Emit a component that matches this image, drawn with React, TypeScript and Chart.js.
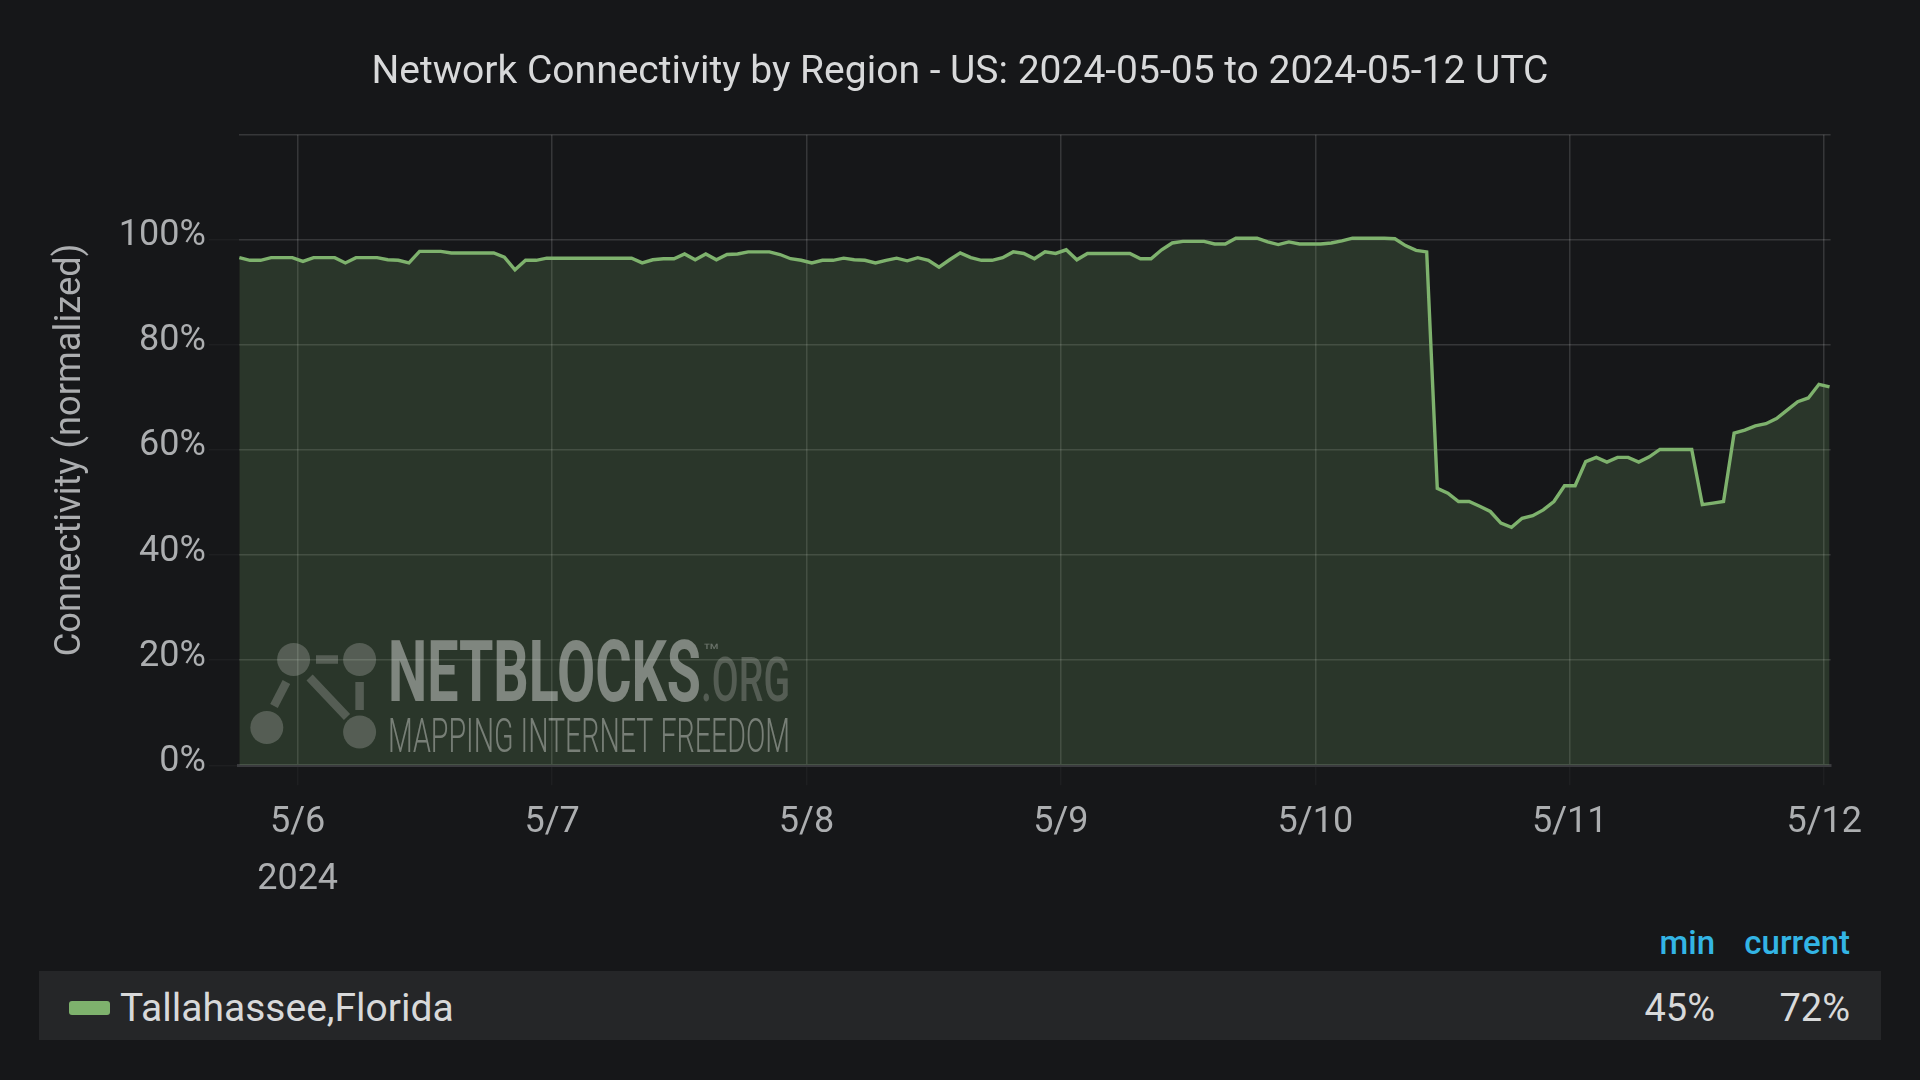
import React, { useEffect, useRef } from 'react';
import { Chart, registerables } from 'chart.js';

Chart.register(...registerables);

// ---------------- data ----------------
const chartTitle = 'Network Connectivity by Region - US: 2024-05-05 to 2024-05-12 UTC';
const yAxisTitle = 'Connectivity (normalized)';
const seriesName = 'Tallahassee,Florida';

// hourly samples, first one at 5/5 18:30 (hours relative to 5/6 00:00)
const startHour = -5.5;
const stepHours = 1;
const connectivity = [
  96.6, 96.1, 96.1, 96.6, 96.6, 96.6, 95.9, 96.6, 96.6, 96.6,
  95.6, 96.6, 96.6, 96.6, 96.2, 96.1, 95.6, 97.8, 97.8, 97.8,
  97.5, 97.5, 97.5, 97.5, 97.5, 96.7, 94.3, 96.1, 96.1, 96.5,
  96.5, 96.5, 96.5, 96.5, 96.5, 96.5, 96.5, 96.5, 95.6, 96.2,
  96.4, 96.4, 97.3, 96.2, 97.3, 96.2, 97.2, 97.3, 97.7, 97.7,
  97.7, 97.2, 96.4, 96.1, 95.6, 96.1, 96.1, 96.5, 96.2, 96.1,
  95.6, 96.1, 96.5, 96.0, 96.6, 96.1, 94.8, 96.2, 97.5, 96.6,
  96.1, 96.1, 96.6, 97.7, 97.4, 96.4, 97.7, 97.4, 98.1, 96.2,
  97.4, 97.4, 97.4, 97.4, 97.4, 96.4, 96.4, 98.1, 99.4, 99.7,
  99.7, 99.7, 99.2, 99.2, 100.3, 100.3, 100.3, 99.6, 99.1, 99.6,
  99.2, 99.2, 99.2, 99.4, 99.8, 100.3, 100.3, 100.3, 100.3, 100.2,
  98.9, 98.0, 97.7, 52.7, 51.8, 50.2, 50.2, 49.3, 48.3, 46.1,
  45.3, 47.0, 47.5, 48.6, 50.2, 53.2, 53.2, 57.8, 58.6, 57.7,
  58.6, 58.6, 57.7, 58.7, 60.1, 60.1, 60.1, 60.1, 49.6, 49.9,
  50.2, 63.2, 63.8, 64.6, 65.0, 66.0, 67.6, 69.2, 69.9, 72.5, 72.0,
];

const dayTickHours = [0, 24, 48, 72, 96, 120, 144];
const dayTickLabels = ['5/6', '5/7', '5/8', '5/9', '5/10', '5/11', '5/12'];
const yearLabel = '2024';
const yTickValues = [0, 20, 40, 60, 80, 100, 120];
const xRange = [-5.55, 144.6];
const yRange = [0, 120];

const legendHeaders = ['min', 'current'];

// ---------------- style ----------------
const BG = '#161719';
const LINE = '#7eb26d';
const FILL = 'rgba(126,178,109,0.2)';
const GRID = 'rgba(255,255,255,0.14)';
const TICK_MARK = 'rgba(255,255,255,0.035)';
const AXIS_TEXT = '#acaeb0';
const FONT = 'Roboto, "Noto Sans", sans-serif';

const watermarkPlugin = {
  id: 'netblocksWatermark',
  afterDatasetsDraw(chart: any) {
    const ctx: CanvasRenderingContext2D = chart.ctx;
    ctx.save();
    ctx.fillStyle = 'rgba(255,255,255,0.2)';
    ctx.strokeStyle = 'rgba(255,255,255,0.2)';
    const circles = [
      [293.6, 659.5],
      [359.6, 659.5],
      [266.8, 727.5],
      [359.6, 732],
    ];
    circles.forEach(([cx, cy]) => {
      ctx.beginPath();
      ctx.arc(cx, cy, 16.5, 0, Math.PI * 2);
      ctx.fill();
    });
    ctx.lineWidth = 8.5;
    ctx.lineCap = 'butt';
    const segs = [
      [316, 659.5, 338, 659.5],
      [309.6, 677.5, 347, 717],
      [274, 706, 286.4, 682],
      [359.6, 682, 359.6, 710],
    ];
    segs.forEach(([x1, y1, x2, y2]) => {
      ctx.beginPath();
      ctx.moveTo(x1, y1);
      ctx.lineTo(x2, y2);
      ctx.stroke();
    });

    const fitText = (text: string, font: string, x: number, baseline: number, width: number, color: string) => {
      ctx.font = font;
      const w = ctx.measureText(text).width;
      ctx.save();
      ctx.translate(x, baseline);
      ctx.scale(width / w, 1);
      ctx.fillStyle = color;
      ctx.textBaseline = 'alphabetic';
      ctx.textAlign = 'left';
      ctx.fillText(text, 0, 0);
      ctx.restore();
    };
    fitText('NETBLOCKS', `bold 85px ${FONT}`, 388, 701, 313, 'rgba(255,255,255,0.4)');
    fitText('.ORG', `500 61px ${FONT}`, 701, 701, 89, 'rgba(255,255,255,0.2)');
    fitText('™', `normal 20px ${FONT}`, 703, 658, 17, 'rgba(255,255,255,0.3)');
    fitText('MAPPING INTERNET FREEDOM', `300 49px ${FONT}`, 388, 752, 402, 'rgba(255,255,255,0.37)');
    ctx.restore();
  },
};

export default function App() {
  const canvasRef = useRef<HTMLCanvasElement | null>(null);

  const minVal = Math.round(Math.min(...connectivity));
  const curVal = Math.round(connectivity[connectivity.length - 1]);

  useEffect(() => {
    const canvas = canvasRef.current;
    if (!canvas) return;
    Chart.defaults.font.family = FONT;
    const points = connectivity.map((v, i) => ({ x: startHour + i * stepHours, y: v }));
    const chart = new Chart(canvas, {
      type: 'line',
      data: {
        datasets: [
          {
            label: seriesName,
            data: points,
            borderColor: LINE,
            backgroundColor: FILL,
            borderWidth: 3.4,
            fill: 'origin',
            pointRadius: 0,
            tension: 0,
            yAxisID: 'y',
          },
        ],
      },
      options: {
        animation: false,
        responsive: false,
        maintainAspectRatio: false,
        layout: { padding: 0 },
        plugins: {
          legend: { display: false },
          tooltip: { enabled: false },
          title: {
            display: true,
            text: chartTitle,
            color: '#d8d9da',
            font: { family: FONT, size: 39, weight: 'normal', lineHeight: 1.2 },
            padding: { top: 50, bottom: 37.9 },
          },
        },
        scales: {
          x: {
            type: 'linear',
            min: xRange[0],
            max: xRange[1],
            afterBuildTicks: (axis: any) => {
              axis.ticks = dayTickHours.map((v) => ({ value: v }));
            },
            afterFit: (scale: any) => {
              scale.height = 149.7;
            },
            ticks: {
              autoSkip: false,
              maxRotation: 0,
              color: AXIS_TEXT,
              padding: 9.7,
              font: { family: FONT, size: 36, lineHeight: 1.58 },
              callback: (value: any) => {
                const i = dayTickHours.indexOf(value);
                if (i === 0) return [dayTickLabels[0], yearLabel];
                return dayTickLabels[i];
              },
            },
            grid: { color: GRID, lineWidth: 1.5, tickColor: TICK_MARK, tickLength: 20 },
            border: { display: true, color: '#3a3b3e', width: 3 },
          },
          y: {
            position: 'left',
            min: yRange[0],
            max: yRange[1],
            afterBuildTicks: (axis: any) => {
              axis.ticks = yTickValues.map((v) => ({ value: v }));
            },
            afterFit: (scale: any) => {
              scale.width = 238.8;
            },
            ticks: {
              color: AXIS_TEXT,
              padding: 3,
              font: { family: FONT, size: 36, lineHeight: 0.2 },
              callback: (value: any) => (value === yRange[1] ? '' : [`${value}%`, '']),
            },
            grid: {
              color: GRID,
              lineWidth: 1.5,
              tickColor: (c: any) => (c.tick && c.tick.value === yRange[1] ? 'rgba(0,0,0,0)' : TICK_MARK),
              tickLength: 30,
            },
            border: { display: false },
            title: {
              display: true,
              text: yAxisTitle,
              color: AXIS_TEXT,
              font: { family: FONT, size: 36.3, lineHeight: 1.2 },
              padding: { top: 48.7, bottom: 0 },
            },
          },
          yRightSpace: {
            position: 'right',
            display: true,
            min: yRange[0],
            max: yRange[1],
            afterFit: (scale: any) => {
              scale.width = 89.4;
            },
            ticks: { display: false },
            grid: { display: false, drawTicks: false },
            border: { display: false },
          },
        },
      },
      plugins: [watermarkPlugin],
    } as any);
    return () => chart.destroy();
  }, []);

  const headerStyle: React.CSSProperties = {
    position: 'absolute',
    top: 921,
    height: 44,
    lineHeight: '44px',
    fontFamily: FONT,
    fontSize: 33,
    fontWeight: 500,
    color: '#33b5e5',
    textAlign: 'right',
    whiteSpace: 'nowrap',
  };
  const valueStyle: React.CSSProperties = {
    position: 'absolute',
    top: 985,
    height: 46,
    lineHeight: '46px',
    fontFamily: FONT,
    fontSize: 38,
    color: '#d8d9da',
    textAlign: 'right',
    whiteSpace: 'nowrap',
  };

  return (
    <div
      style={{
        position: 'fixed',
        left: 0,
        top: 0,
        width: 1920,
        height: 1080,
        background: BG,
        overflow: 'hidden',
      }}
    >
      <canvas
        ref={canvasRef}
        width={1920}
        height={915}
        style={{ position: 'absolute', left: 0, top: 0, width: 1920, height: 915 }}
      />
      <div style={{ ...headerStyle, right: 1920 - 1715 }}>{legendHeaders[0]}</div>
      <div style={{ ...headerStyle, right: 1920 - 1850 }}>{legendHeaders[1]}</div>
      <div
        style={{
          position: 'absolute',
          left: 39,
          top: 971,
          width: 1842,
          height: 69,
          background: '#252628',
        }}
      />
      <div
        style={{
          position: 'absolute',
          left: 69,
          top: 1001,
          width: 41,
          height: 14,
          borderRadius: 3,
          background: LINE,
        }}
      />
      <div
        style={{
          ...valueStyle,
          left: 120,
          fontSize: 39,
          textAlign: 'left',
        }}
      >
        {seriesName}
      </div>
      <div style={{ ...valueStyle, right: 1920 - 1715 }}>{`${minVal}%`}</div>
      <div style={{ ...valueStyle, right: 1920 - 1850 }}>{`${curVal}%`}</div>
    </div>
  );
}
